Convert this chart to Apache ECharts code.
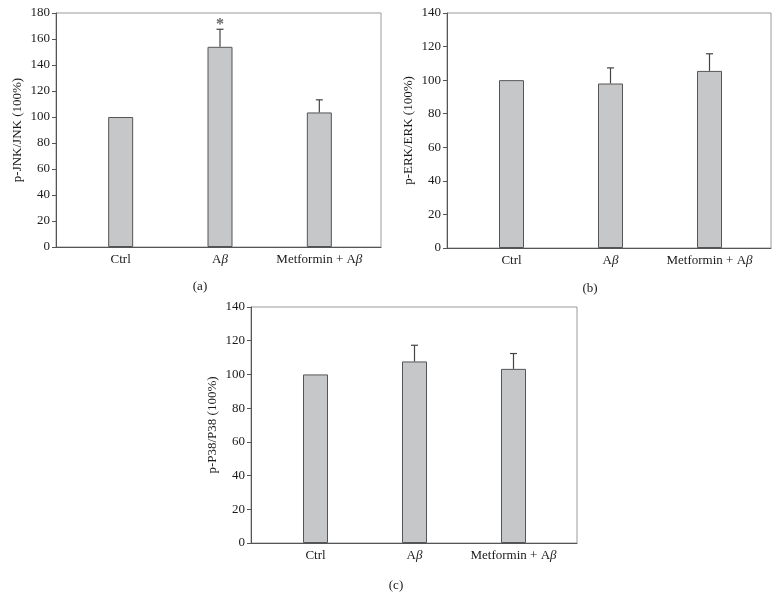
<!DOCTYPE html>
<html>
<head>
<meta charset="utf-8">
<script src="https://cdn.jsdelivr.net/npm/echarts@6/dist/echarts.min.js"></script>
<style>
  html, body { margin: 0; padding: 0; background: #fff; }
  #main { width: 783px; height: 607px; }
</style>
</head>
<body>
<div id="main"></div>
<script>
var categories = ['Ctrl', 'A\u03b2', 'Metformin + A\u03b2'];

var jnkValues = [100, 154, 103.5];
var jnkErrors = [0, 13.5, 9.7];
var jnkMarks = ['', '*', ''];

var erkValues = [100, 98, 105.5];
var erkErrors = [0, 9.3, 10.2];
var erkMarks = ['', '', ''];

var p38Values = [100, 107.7, 103.3];
var p38Errors = [0, 9.6, 9.1];
var p38Marks = ['', '', ''];

var jnkTicks = { max: 180, interval: 20 };
var otherTicks = { max: 140, interval: 20 };

var font = 'Liberation Serif';

// frame grid and bar grid for each panel
var panels = [
  { frame: { left: 56, top: 13, width: 325, height: 234 }, bars: { left: 71, top: 13, width: 298, height: 234 },
    name: 'p-JNK/JNK (100%)', ticks: jnkTicks, values: jnkValues, errors: jnkErrors, marks: jnkMarks },
  { frame: { left: 447, top: 13, width: 324, height: 235 }, bars: { left: 462, top: 13, width: 297, height: 235 },
    name: 'p-ERK/ERK (100%)', ticks: otherTicks, values: erkValues, errors: erkErrors, marks: erkMarks },
  { frame: { left: 251, top: 307, width: 326, height: 236 }, bars: { left: 266, top: 307, width: 297, height: 236 },
    name: 'p-P38/P38 (100%)', ticks: otherTicks, values: p38Values, errors: p38Errors, marks: p38Marks }
];

// italic beta like the original figure
function catLabel(v) {
  return v.replace(/\u03b2/g, '{b|\u03b2}');
}

var grid = [], xAxis = [], yAxis = [], series = [];

panels.forEach(function (p, k) {
  var fi = k * 2, bi = k * 2 + 1;
  grid.push({ left: p.frame.left, top: p.frame.top, width: p.frame.width, height: p.frame.height,
    show: true, borderColor: '#9a9a9a', borderWidth: 1, backgroundColor: 'transparent' });
  grid.push({ left: p.bars.left, top: p.bars.top, width: p.bars.width, height: p.bars.height });

  xAxis.push({ type: 'value', gridIndex: fi, min: 0, max: 1,
    axisLine: { show: true, lineStyle: { color: '#555', width: 1 } },
    axisTick: { show: false }, axisLabel: { show: false }, splitLine: { show: false } });
  xAxis.push({ type: 'category', gridIndex: bi, data: categories,
    axisLine: { show: false }, axisTick: { show: false },
    axisLabel: { interval: 0, color: '#1a1a1a', fontFamily: font, fontSize: 13, margin: 6,
      formatter: catLabel,
      rich: { b: { fontStyle: 'italic', fontFamily: font, fontSize: 13, color: '#1a1a1a' } } } });

  yAxis.push({ type: 'value', gridIndex: fi, min: 0, max: p.ticks.max, interval: p.ticks.interval,
    name: p.name, nameLocation: 'middle', nameGap: 32,
    nameTextStyle: { color: '#1a1a1a', fontFamily: font, fontSize: 13 },
    axisLine: { show: true, lineStyle: { color: '#555', width: 1 } },
    axisTick: { show: true, length: 4, lineStyle: { color: '#555' } },
    axisLabel: { color: '#1a1a1a', fontFamily: font, fontSize: 13, margin: 6 },
    splitLine: { show: false } });
  yAxis.push({ type: 'value', gridIndex: bi, min: 0, max: p.ticks.max, interval: p.ticks.interval, show: false });

  series.push({ type: 'bar', xAxisIndex: bi, yAxisIndex: bi, data: p.values, barWidth: 25,
    itemStyle: { color: '#c6c7c9', borderColor: '#555', borderWidth: 1 }, silent: true });

  var errData = p.values.map(function (v, i) { return [i, v, p.errors[i]]; });
  var marks = p.marks;
  series.push({ type: 'custom', xAxisIndex: bi, yAxisIndex: bi, data: errData, silent: true,
    renderItem: function (params, api) {
      var i = api.value(0), v = api.value(1), e = api.value(2);
      if (!e) return null;
      var base = api.coord([i, v]);
      var top = api.coord([i, v + e]);
      var children = [
        { type: 'line', shape: { x1: base[0], y1: base[1], x2: top[0], y2: top[1] }, style: { stroke: '#444', lineWidth: 1.2 } },
        { type: 'line', shape: { x1: top[0] - 3.5, y1: top[1], x2: top[0] + 3.5, y2: top[1] }, style: { stroke: '#444', lineWidth: 1.2 } }
      ];
      if (marks[i]) {
        children.push({ type: 'text', x: top[0], y: top[1] - 4,
          style: { text: marks[i], fill: '#666', font: 'bold 16px ' + font, align: 'center', verticalAlign: 'middle' } });
      }
      return { type: 'group', children: children };
    } });
});

var titleStyle = { fontFamily: font, fontSize: 13, fontWeight: 'normal', color: '#1a1a1a' };

var option = {
  animation: false,
  backgroundColor: '#fff',
  title: [
    { text: '(a)', left: 195, top: 275, textAlign: 'center', textStyle: titleStyle },
    { text: '(b)', left: 585, top: 277, textAlign: 'center', textStyle: titleStyle },
    { text: '(c)', left: 391, top: 574, textAlign: 'center', textStyle: titleStyle }
  ],
  grid: grid,
  xAxis: xAxis,
  yAxis: yAxis,
  series: series
};

var myChart = echarts.init(document.getElementById('main'));
myChart.setOption(option);
</script>
</body>
</html>
